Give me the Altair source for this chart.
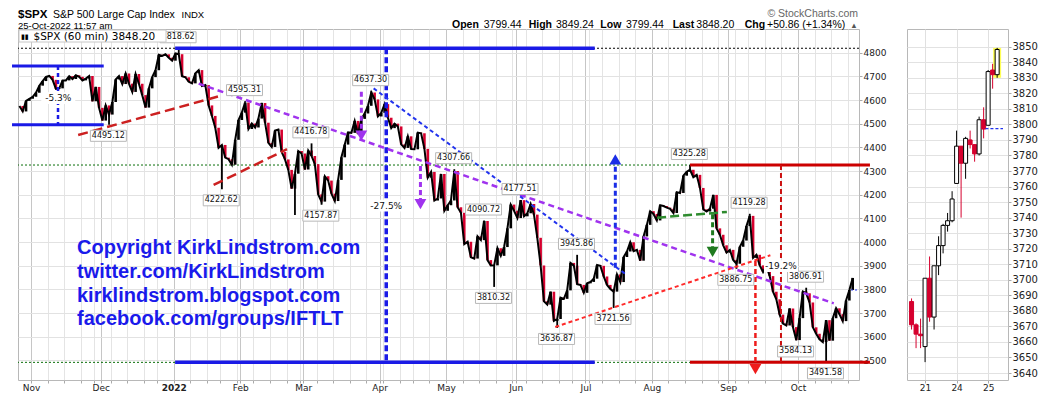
import altair as alt
import numpy as np
import pandas as pd

# ---------------- data ----------------
holidays = ["2021-11-25", "2021-12-24", "2022-01-17", "2022-02-21", "2022-04-15",
            "2022-05-30", "2022-06-20", "2022-07-04", "2022-09-05"]

close_oct21 = [4574.79, 4551.68, 4596.42, 4605.38]
close_nov21 = [4613.67, 4630.65, 4660.57, 4680.06, 4697.53, 4701.70, 4685.25, 4646.71, 4649.27, 4682.85,
               4682.80, 4700.90, 4688.67, 4704.54, 4697.96, 4682.94, 4690.70, 4701.46, 4594.62, 4655.27, 4567.00]
close_dec21 = [4513.04, 4577.10, 4538.43, 4591.67, 4686.75, 4701.21, 4667.45, 4712.02, 4668.97, 4634.09,
               4709.85, 4668.67, 4620.64, 4568.02, 4649.23, 4696.56, 4725.79, 4791.19, 4786.35, 4793.06,
               4778.73, 4766.18]
close_jan22 = [4796.56, 4793.54, 4700.58, 4696.05, 4677.03, 4670.29, 4713.07, 4726.35, 4659.03, 4662.85,
               4577.11, 4532.76, 4482.73, 4397.94, 4410.13, 4356.45, 4349.93, 4326.51, 4431.85, 4515.55]
close_feb22 = [4546.54, 4589.38, 4477.44, 4500.53, 4483.87, 4521.54, 4587.18, 4504.08, 4418.64, 4401.67,
               4471.07, 4475.01, 4380.26, 4348.87, 4304.76, 4225.50, 4288.70, 4384.65, 4373.94]
close_mar22 = [4306.26, 4386.54, 4363.49, 4328.87, 4201.09, 4170.70, 4277.88, 4259.52, 4204.31, 4173.11,
               4262.45, 4357.86, 4411.67, 4463.12, 4461.18, 4511.61, 4456.24, 4520.16, 4543.06, 4575.52,
               4631.60, 4602.45, 4530.41]
close_apr22 = [4545.86, 4582.64, 4525.12, 4481.15, 4500.21, 4488.28, 4412.53, 4397.45, 4446.59, 4392.59,
               4391.69, 4462.21, 4459.45, 4393.66, 4271.78, 4296.12, 4175.20, 4183.96, 4287.50, 4131.93]
close_may22 = [4155.38, 4175.48, 4300.17, 4146.87, 4123.34, 3991.24, 4001.05, 3935.18, 3930.08, 4023.89,
               4008.01, 4088.85, 3923.68, 3900.79, 3901.36, 3973.75, 3941.48, 3978.73, 4057.84, 4158.24, 4132.15]
close_jun22 = [4101.23, 4176.82, 4108.54, 4121.43, 4160.68, 4115.77, 4017.82, 3900.86, 3749.63, 3735.48,
               3789.99, 3666.77, 3674.84, 3764.79, 3759.89, 3795.73, 3911.74, 3900.11, 3821.55, 3818.83, 3785.38]
close_jul22 = [3825.33, 3831.39, 3845.08, 3902.62, 3899.38, 3854.43, 3818.80, 3801.78, 3790.38, 3863.16,
               3830.85, 3936.69, 3959.90, 3998.95, 3961.63, 3966.84, 3921.05, 4023.61, 4072.43, 4130.29]
close_aug22 = [4118.63, 4091.19, 4155.17, 4151.94, 4145.19, 4140.06, 4122.47, 4210.24, 4207.27, 4280.15,
               4297.14, 4305.20, 4274.04, 4283.74, 4228.48, 4137.99, 4128.73, 4140.77, 4199.12, 4057.66,
               4030.61, 3986.16, 3955.00]
close_sep22 = [3966.85, 3924.26, 3908.19, 3979.87, 4006.18, 4067.36, 4110.41, 3932.69, 3946.01, 3901.35,
               3873.33, 3899.89, 3855.93, 3789.93, 3757.99, 3693.23, 3655.04, 3647.29, 3719.04, 3640.47, 3585.62]
close_oct22 = [3678.43, 3790.93, 3783.28, 3744.52, 3639.66, 3612.39, 3588.84, 3577.03, 3669.91, 3583.07,
               3677.95, 3719.98, 3695.16, 3665.78, 3752.75, 3797.34, 3848.20]

# labelled intraday highs / lows
pivot_dates = ["2021-12-03", "2022-01-04", "2022-01-24", "2022-02-02", "2022-03-03", "2022-03-08",
               "2022-03-29", "2022-05-04", "2022-05-17", "2022-05-20", "2022-06-02", "2022-06-17",
               "2022-06-28", "2022-07-14", "2022-08-16", "2022-09-06", "2022-09-12", "2022-09-30",
               "2022-10-05", "2022-10-13"]
pivot_values = [4495.12, 4818.62, 4222.62, 4595.31, 4416.78, 4157.87, 4637.30, 4307.66, 4090.72, 3810.32,
                4177.51, 3636.87, 3945.86, 3721.56, 4325.28, 3886.75, 4119.28, 3584.13, 3806.91, 3491.58]
pivot_above = [False, True, False, True, True, False, True, True, True, False,
               True, False, True, False, True, False, True, False, True, False]
extra_wick_dates = ["2022-02-24"]
extra_wick_values = [4114.65]

# trend lines drawn on the chart (trading-day index, price)
purple_x = [50.5]; purple_x2 = [241.8]; purple_y = [4669]; purple_y2 = [3741]
bluediag_x = [103.2]; bluediag_x2 = [179.5]; bluediag_y = [4649]; bluediag_y2 = [3860]
redlong_x = [14.2, 55.0]; redlong_x2 = [56.9, 77.1]; redlong_y = [4452, 4241]; redlong_y2 = [4617, 4392]
reddot_x = [157.9]; reddot_x2 = [222.7]; reddot_y = [3641]; reddot_y2 = [3944]
green_x = [188.6]; green_x2 = [209.6]; green_y = [4103]; green_y2 = [4127]
box_x = [-5.72, -5.72]; box_x2 = [21.9, 21.9]; box_y = [4743.83, 4495.12]
band_x = [43.4, 43.4]; band_x2 = [169.8, 169.8]; band_y = [4818.62, 3491.58]
redband_x = [198.5, 198.5]; redband_x2 = [252.7, 252.7]; redband_y = [4325.28, 3491.58]
black_levels = [4818.62]
green_levels = [4325.28, 3491.58]
# vertical measuring lines / arrows: x, from, to
boxv = (8.13, 4743.83, 4495.12)
bandv = (107.0, 4818.62, 3491.58)
redv = (225.9, 4325.28, 3491.58)
arrows = [  # x, start, head, colour, direction
    (99.5, 4635, 4450, "#a033ee", "down"),
    (117.3, 4321, 4160, "#a033ee", "down"),
    (176.0, 3891, 4349, "#1a2ee6", "up"),
    (205.3, 4117, 3958, "#1f7a1f", "down"),
    (218.2, 3920, 3463, "#ee1c1c", "down"),
]
pct_text = ["-5.3%", "-27.5%", "-19.2%"]
pct_x = [8.2, 107.0, 225.9]
pct_y = [4608, 4154, 3898]

# hourly candles of the small panel (Oct 20 - Oct 25)
cndl_open = [3686, 3671, 3665, 3657, 3701, 3676, 3709, 3722, 3735, 3738, 3762, 3786, 3775, 3790, 3787,
             3781, 3803, 3799.44, 3835, 3832]
cndl_high = [3688, 3672, 3675, 3701, 3715, 3709, 3728, 3736, 3743, 3757, 3796, 3786, 3792, 3796, 3787,
             3805, 3811, 3835, 3839, 3849.24]
cndl_low = [3668, 3656, 3656, 3647, 3673, 3668, 3703, 3717, 3731, 3737, 3762, 3740, 3765, 3784.5, 3776,
            3780, 3791, 3799.44, 3823, 3830]
cndl_close = [3671, 3665, 3664, 3701, 3676, 3709, 3722, 3735, 3738, 3752, 3786, 3775, 3791, 3787, 3781,
              3803, 3797, 3834, 3832, 3848.20]
prev_close = 3797.34
day_labels_small = {3: "21", 10: "24", 17: "25"}

# ---------------- build tables ----------------
closes = (close_oct21 + close_nov21 + close_dec21 + close_jan22 + close_feb22 + close_mar22 + close_apr22
          + close_may22 + close_jun22 + close_jul22 + close_aug22 + close_sep22 + close_oct22)
days = pd.bdate_range("2021-10-26", "2022-10-25")
days = days[~days.isin(pd.to_datetime(holidays))]
assert len(days) == len(closes), (len(days), len(closes))
base = int(np.where(days == pd.Timestamp("2021-11-01"))[0][0])
day_idx = np.arange(len(days)) - base
pos = {t: int(i) for t, i in zip(days, day_idx)}

price = pd.DataFrame({"d": day_idx + 0.5, "close": closes})
price["prev"] = price["close"].shift(1).fillna(price["close"])
price["lo"] = price[["prev", "close"]].min(axis=1)
price["hi"] = price[["prev", "close"]].max(axis=1)
price["up"] = price["close"] >= price["prev"]
close_by_d = dict(zip(price["d"], price["close"]))

piv = pd.DataFrame({"date": pd.to_datetime(pivot_dates), "value": pivot_values, "above": pivot_above})
piv["d"] = piv["date"].map(pos) + 0.5
piv["close"] = piv["d"].map(close_by_d)
piv["ld"] = piv["d"] - 0.2
piv["label"] = piv["value"].map(lambda v: f"{v:.2f}")
wick = pd.concat([piv[["d", "close", "value"]],
                  pd.DataFrame({"d": pd.to_datetime(extra_wick_dates).map(pos) + 0.5,
                                "value": extra_wick_values})])
wick["close"] = wick["d"].map(close_by_d)

XMIN, XMAX = -3.92, 249.4
s = pd.Series(days)
week_first = s.groupby(s.dt.to_period("W-SUN")).idxmin()
month_first = s.groupby(s.dt.to_period("M")).idxmin()
week_vals = [int(day_idx[i]) for i in week_first.values]
month_vals = [int(day_idx[i]) for i in month_first.values]
month_names = {}
for i in month_first.values:
    t = days[i]
    month_names[int(day_idx[i])] = "2022" if t.month == 1 else t.strftime("%b")
grid_vals = sorted(v for v in set(week_vals + month_vals) if XMIN <= v <= XMAX)
month_in = [v for v in sorted(month_names) if XMIN <= v <= XMAX]
label_expr = " : ".join(f"datum.value == {v} ? '{month_names[v]}'" for v in month_in) + " : ''"
month_list = "[" + ",".join(str(v) for v in month_in) + "]"
jan_val = [v for v in month_in if month_names[v] == "2022"][0]

# ---------------- main panel ----------------
W, H = 841, 351
FONT = "DejaVu Sans"
x_scale = alt.Scale(domain=[XMIN, XMAX], nice=False, zero=False)
y_scale = alt.Scale(domain=[3417, 4900], nice=False, zero=False)
x_axis = alt.Axis(values=grid_vals, labelExpr=label_expr, grid=True,
                  gridColor={"condition": {"test": f"indexof({month_list}, datum.value) >= 0", "value": "#c6c6c6"},
                             "value": "#e4e4e4"},
                  labelFontWeight={"condition": {"test": f"datum.value == {jan_val}", "value": "bold"},
                                   "value": "normal"},
                  tickSize=3, tickColor="#aaaaaa", labelPadding=0, labelFontSize=9, labelFont=FONT,
                  labelColor="#222222", labelFlush=False, labelOverlap=False, labelBound=False,
                  domain=False, title=None)
y_axis = alt.Axis(orient="right", values=list(range(3500, 4801, 100)), format="d", grid=True,
                  gridColor="#e2e2e2", tickSize=3, tickColor="#aaaaaa", labelPadding=1, labelFontSize=9,
                  labelFont=FONT, labelColor="#222222", labelFlush=False, domain=False, title=None)


def X(f):
    return alt.X(f, type="quantitative", scale=x_scale, axis=x_axis)


def Y(f):
    return alt.Y(f, type="quantitative", scale=y_scale, axis=y_axis)


def segments(xs, x2s, ys, y2s, color, width, dash=None):
    df = pd.DataFrame({"x": xs, "x2": x2s, "y": ys, "y2": y2s})
    kw = dict(color=color, strokeWidth=width)
    if dash:
        kw["strokeDash"] = dash
    return alt.Chart(df).mark_rule(**kw).encode(x=X("x"), x2="x2:Q", y=Y("y"), y2="y2:Q")


def levels(vals, color, width, dash):
    return alt.Chart(pd.DataFrame({"y": vals})).mark_rule(color=color, strokeWidth=width,
                                                          strokeDash=dash).encode(y=Y("y"))


def ptext(txt, x, y, size, weight="normal", font="Liberation Sans", color="#000000", align="left",
          baseline="alphabetic"):
    return alt.Chart(pd.DataFrame({"t": [txt]})).mark_text(
        align=align, baseline=baseline, font=font, fontSize=size, fontWeight=weight, color=color
    ).encode(x=alt.value(x), y=alt.value(y), text="t:N")


RED = "#d6002e"
layers = []
layers.append(levels(black_levels, "#000000", 1, [2, 2]))
layers.append(levels(green_levels, "#0a6e0a", 1, [2, 2]))
# price
layers.append(alt.Chart(price).mark_rule(strokeWidth=2.6).encode(
    x=X("d"), y=Y("lo"), y2="hi:Q",
    color=alt.condition("datum.up", alt.value("#000000"), alt.value(RED))))
layers.append(alt.Chart(price).mark_line(color="#000000", strokeWidth=2).encode(x=X("d"), y=Y("close")))
layers.append(alt.Chart(wick).mark_rule(strokeWidth=1.8, color="#000000").encode(
    x=X("d"), y=Y("close"), y2="value:Q"))
layers.append(alt.Chart(pd.DataFrame({"d": [247.0], "d2": [XMAX], "y": [prev_close]})).mark_rule(
    color="#2233ee", strokeWidth=1, strokeDash=[2, 2]).encode(x=X("d"), x2="d2:Q", y=Y("y")))
# thick bands
layers.append(segments(box_x, box_x2, box_y, box_y, "#1a1ae6", 3))
layers.append(segments(band_x, band_x2, band_y, band_y, "#1a1ae6", 3.5))
layers.append(segments(redband_x, redband_x2, redband_y, redband_y, "#cc0000", 3))
# vertical measuring lines
layers.append(segments([boxv[0]], [boxv[0]], [boxv[1]], [boxv[2]], "#1a1ae6", 2.5, [4, 3]))
layers.append(segments([bandv[0]], [bandv[0]], [bandv[1]], [bandv[2]], "#1a1ae6", 3.5, [6, 3]))
layers.append(segments([redv[0]], [redv[0]], [redv[1]], [redv[2]], "#cc1111", 2, [5, 3]))
# trend lines
layers.append(segments(redlong_x, redlong_x2, redlong_y, redlong_y2, "#cc2020", 2.5, [10, 5]))
layers.append(segments(purple_x, purple_x2, purple_y, purple_y2, "#a033ee", 2.5, [6, 4]))
layers.append(segments(bluediag_x, bluediag_x2, bluediag_y, bluediag_y2, "#2233ee", 2, [4, 3]))
layers.append(segments(reddot_x, reddot_x2, reddot_y, reddot_y2, "#ff2a2a", 2, [4, 3]))
layers.append(segments(green_x, green_x2, green_y, green_y2, "#2e8b2e", 2.5, [9, 4]))
# arrows
for ax_, a0, a1, col, direction in arrows:
    layers.append(segments([ax_], [ax_], [a0], [a1], col, 3 if col != "#ee1c1c" else 2.5, [5, 3]))
    layers.append(alt.Chart(pd.DataFrame({"x": [ax_], "y": [a1]})).mark_point(
        shape="triangle-down" if direction == "down" else "triangle-up", filled=True, size=140,
        color=col, opacity=1).encode(x=X("x"), y=Y("y")))
# pivot labels
BOX = "M-1,-0.3056L1,-0.3056L1,0.3056L-1,0.3056Z"
for above, off in [(True, -11), (False, 11)]:
    sub = piv[piv["above"] == above]
    layers.append(alt.Chart(sub).mark_point(shape=BOX, size=1296, filled=True, fill="white",
                                            stroke="#b8b8b8", strokeWidth=1, opacity=1, yOffset=off).encode(
        x=X("ld"), y=Y("value")))
    layers.append(alt.Chart(sub).mark_text(font=FONT, fontSize=8, color="#111111", dy=off,
                                           baseline="middle").encode(x=X("ld"), y=Y("value"), text="label:N"))
pct = pd.DataFrame({"x": pct_x, "y": pct_y, "t": pct_text})
layers.append(alt.Chart(pct).mark_point(shape=BOX, size=1024, filled=True, fill="white", stroke="white",
                                        opacity=1).encode(x=X("x"), y=Y("y")))
layers.append(alt.Chart(pct).mark_text(font=FONT, fontSize=9, color="#111111", baseline="middle").encode(
    x=X("x"), y=Y("y"), text="t:N"))
# watermark
wm = ["Copyright KirkLindstrom.com", "twitter.com/KirkLindstrom", "kirklindstrom.blogspot.com",
      "facebook.com/groups/IFTLT"]
for i, line in enumerate(wm):
    layers.append(ptext(line, 59, 225 + 23.8 * i, 20, "bold", color="#1a1aeb"))
# legend box
layers.append(alt.Chart(pd.DataFrame({"a": [0]})).mark_rect(fill="white", stroke="#c8c8c8",
                                                             strokeWidth=1).encode(
    x=alt.value(1), x2=alt.value(148), y=alt.value(1), y2=alt.value(13)))
layers.append(ptext("$SPX (60 min) 3848.20", 15.5, 7.5, 10.5, font=FONT, baseline="middle"))
layers.append(ptext("▮▮", 3, 7.5, 7, font=FONT, baseline="middle"))
# header
layers.append(ptext("$SPX", 0, -20, 11.5, "bold", baseline="top"))
layers.append(ptext("S&P 500 Large Cap Index", 35, -19.5, 10.5, baseline="top"))
layers.append(ptext("INDX", 163.5, -19, 9.5, baseline="top"))
layers.append(ptext("25-Oct-2022 11:57 am", 0, -0.3, 9.5))
layers.append(ptext("© StockCharts.com", 840, -12, 10.5, color="#666666", align="right"))
ohlc = [("Open", 434, "bold"), ("3799.44", 465.7, "normal"), ("High", 510.7, "bold"),
        ("3849.24", 538, "normal"), ("Low", 582.3, "bold"), ("3799.44", 608, "normal"),
        ("Last", 654.7, "bold"), ("3848.20", 678.3, "normal"), ("Chg", 726.7, "bold"),
        ("+50.86 (+1.34%)", 749, "normal")]
for t, xx, wgt in ohlc:
    layers.append(ptext(t, xx, -0.8, 10.5, wgt))
layers.append(ptext("▲", 832.3, -1.5, 7.5, color="#555555"))

main = alt.layer(*layers).properties(width=W, height=H)

# ---------------- small candle panel ----------------
cd = pd.DataFrame({"k": np.arange(len(cndl_open)), "open": cndl_open, "high": cndl_high,
                   "low": cndl_low, "close": cndl_close})
cd["up"] = cd["close"] >= cd["open"]
xs2 = alt.Scale(domain=[0.1, 20.3], nice=False, zero=False)
ys2 = alt.Scale(domain=[3635.5, 3861.4], nice=False, zero=False)
sm_label_expr = " : ".join(f"datum.value == {k} ? '{v}'" for k, v in day_labels_small.items()) + " : ''"
x_axis2 = alt.Axis(values=list(day_labels_small), labelExpr=sm_label_expr, grid=True, gridColor="#e0e0e0",
                   tickSize=3, tickColor="#aaaaaa", labelPadding=0, labelFontSize=9, labelFont=FONT,
                   labelColor="#222222", labelFlush=False, domain=False, title=None)
y_axis2 = alt.Axis(orient="right", values=list(range(3640, 3851, 10)), format="d", grid=True,
                   gridColor="#e2e2e2", tickSize=3, tickColor="#aaaaaa", labelPadding=1, labelFontSize=10,
                   labelFont=FONT, labelColor="#222222", labelFlush=False, domain=False, title=None)


def X2(f):
    return alt.X(f, type="quantitative", scale=xs2, axis=x_axis2)


def Y2(f):
    return alt.Y(f, type="quantitative", scale=ys2, axis=y_axis2)


last = cd.tail(1)
side = alt.layer(
    alt.Chart(last).mark_bar(size=8, color="#ffff55", clip=True).encode(x=X2("k"), y=Y2("low"), y2="high:Q"),
    alt.Chart(cd).mark_rule(strokeWidth=1, clip=True).encode(
        x=X2("k"), y=Y2("low"), y2="high:Q",
        color=alt.condition("datum.up", alt.value("#000000"), alt.value(RED))),
    alt.Chart(cd).mark_bar(size=4, strokeWidth=1, clip=True).encode(
        x=X2("k"), y=Y2("open"), y2="close:Q",
        fill=alt.condition("datum.up", alt.value("#ffffff"), alt.value(RED)),
        stroke=alt.condition("datum.up", alt.value("#000000"), alt.value(RED))),
    alt.Chart(pd.DataFrame({"k": [16.4], "k2": [20.3], "y": [prev_close]})).mark_rule(
        color="#2233ee", strokeWidth=1.3, strokeDash=[3, 2]).encode(x=X2("k"), x2="k2:Q", y=Y2("y")),
).properties(width=101, height=H)

chart = alt.hconcat(main, side, spacing=48, bounds="flush").properties(
    padding={"left": 2, "top": 0, "right": 0, "bottom": 0}, background="white"
).configure_view(stroke="#b8b8b8", strokeWidth=1)

chart.save("out.html", embed_options={"renderer": "svg", "actions": False})
